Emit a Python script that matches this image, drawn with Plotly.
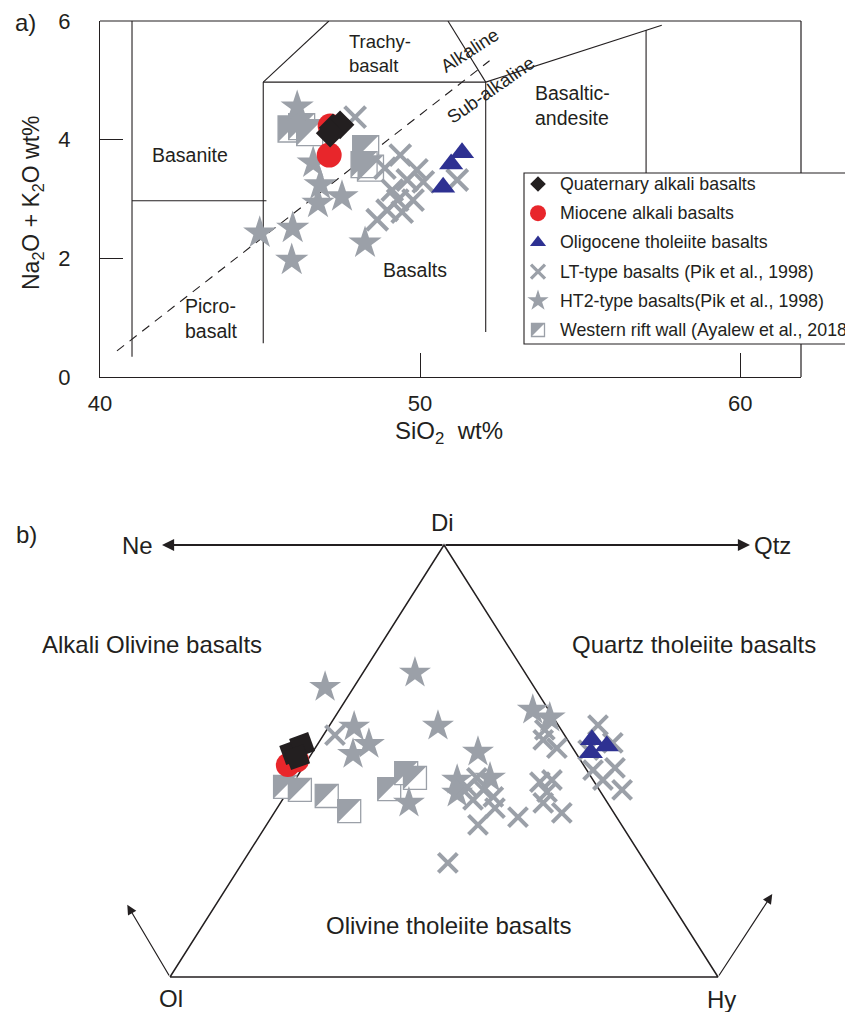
import plotly.graph_objects as go

W, H = 845, 1012
FONT = "Liberation Sans, Arial, sans-serif"
INK = "#231f20"
GREY = "#9ba0a8"
RED = "#e8262b"
BLUE = "#2e3192"
BLACK = "#231f20"

# ---------------- a) TAS diagram: SiO2 vs Na2O+K2O (wt%) ----------------
quat_sio2 = [47.28, 47.50, 47.19]
quat_alk = [4.20, 4.25, 4.11]

mio_sio2 = [47.19, 47.16]
mio_alk = [4.23, 3.74]

olig_sio2 = [51.31, 50.97, 50.72]
olig_alk = [3.78, 3.59, 3.20]

lt_sio2 = [47.97, 49.38, 49.90, 48.90, 49.13, 49.60, 50.10, 49.30, 49.78, 48.97, 49.44, 48.66, 51.16]
lt_alk = [4.38, 3.74, 3.49, 3.52, 3.15, 3.32, 3.29, 2.98, 2.98, 2.81, 2.78, 2.65, 3.32]

ht2_sio2 = [46.16, 44.99, 46.02, 45.99, 46.66, 46.88, 46.81, 47.56, 48.28]
ht2_alk = [4.55, 2.43, 2.51, 1.97, 3.61, 3.24, 2.93, 3.04, 2.26]

wrw_sio2 = [45.97, 46.30, 46.55, 48.30, 48.45, 48.25]
wrw_alk = [4.18, 4.22, 4.12, 3.85, 3.52, 3.58]

# field boundaries (SiO2, Na2O+K2O)
tas_boundaries = [
    ([41.0, 41.0], [0.34, 6.0]),
    ([41.0, 45.2], [2.97, 2.97]),
    ([45.1, 45.1], [0.57, 4.97]),
    ([45.1, 47.15], [4.97, 6.0]),
    ([45.1, 52.05], [4.97, 4.97]),
    ([52.05, 52.05], [0.76, 4.97]),
    ([52.05, 50.87], [4.97, 6.0]),
    ([52.05, 57.55], [4.97, 5.93]),
    ([57.06, 57.06], [3.44, 5.85]),
]
alk_divide_sio2 = [40.53, 52.17]
alk_divide_alk = [0.44, 5.33]

x_ticks = [40, 50, 60]
y_ticks = [0, 2, 4, 6]

# ---------------- b) Ne-Di-Ol-Hy-Qtz projection ----------------
# u runs along the Ol -> Hy base (0..1), v rises toward Di (0..1)
quat_u = [0.223, 0.241, 0.232]
quat_v = [0.521, 0.537, 0.509]

mio_u = [0.215, 0.232]
mio_v = [0.491, 0.502]

olig_u = [0.770, 0.797, 0.768]
olig_v = [0.549, 0.535, 0.519]

lt_u = [0.301, 0.560, 0.542, 0.572, 0.590, 0.553, 0.593, 0.562, 0.635, 0.675, 0.697, 0.688,
        0.681, 0.715, 0.684, 0.681, 0.706, 0.507, 0.781, 0.808, 0.763, 0.812, 0.790, 0.825, 0.772]
lt_v = [0.560, 0.461, 0.440, 0.433, 0.417, 0.410, 0.391, 0.352, 0.370, 0.451, 0.456, 0.428,
        0.403, 0.380, 0.572, 0.549, 0.530, 0.264, 0.583, 0.542, 0.525, 0.484, 0.456, 0.433, 0.479]

ht2_u = [0.283, 0.447, 0.489, 0.336, 0.363, 0.334, 0.562, 0.662, 0.693, 0.524, 0.524, 0.584, 0.436]
ht2_v = [0.671, 0.704, 0.581, 0.579, 0.539, 0.516, 0.521, 0.618, 0.600, 0.456, 0.426, 0.461, 0.403]

wrw_u = [0.210, 0.237, 0.286, 0.327, 0.400, 0.431, 0.447]
wrw_v = [0.440, 0.433, 0.419, 0.384, 0.435, 0.472, 0.461]

# projection frame: Ol, Di, Hy corners and the Ne / Qtz / arrow tips
ol_uv, di_uv, hy_uv = (0.0, 0.0), (0.5, 1.0), (1.0, 0.0)
ne_tip_u, qtz_tip_u = -0.0146, 1.0584
ol_arrow_tip = (-0.078, 0.167)
hy_arrow_tip = (1.099, 0.192)

legend_names = [
    "Quaternary alkali basalts",
    "Miocene alkali basalts",
    "Oligocene tholeiite basalts",
    "LT-type basalts (Pik et al., 1998)",
    "HT2-type basalts(Pik et al., 1998)",
    "Western rift wall (Ayalew et al., 2018)",
]

# ---------------- geometry (pixels) ----------------
A_L, A_R, A_T, A_B = 100, 801, 21, 377
X_RANGE = [40, 61.9]
Y_RANGE = [0, 6]
px_per_x = (A_R - A_L) / (X_RANGE[1] - X_RANGE[0])
px_per_y = (A_B - A_T) / (Y_RANGE[1] - Y_RANGE[0])

OL_PX, HY_PX, DI_PY = (170, 977), (718, 977), 545
U_PX = HY_PX[0] - OL_PX[0]
V_PX = OL_PX[1] - DI_PY
B_DOM_TOP = 0.6
b_top_px = H - B_DOM_TOP * H
U_RANGE = [-OL_PX[0] / U_PX, (W - OL_PX[0]) / U_PX]
V_RANGE = [(OL_PX[1] - H) / V_PX, (OL_PX[1] - b_top_px) / V_PX]

# marker side (pixels) of the half-filled squares
SQ_A, SQ_B, SQ_L = 26, 23, 13

fig = go.Figure()


def add_half_squares(xs, ys, side, xa, ya, px_x, px_y):
    """White square outlined in grey with its upper-left half filled grey.
    px_x / px_y: pixels per data unit (negative px_y for a downward axis)."""
    fig.add_trace(go.Scatter(x=xs, y=ys, xaxis=xa, yaxis=ya, mode="markers", showlegend=False,
                             hoverinfo="skip", cliponaxis=False,
                             marker=dict(symbol="square", size=side, color="white",
                                         line=dict(color=GREY, width=1.3))))
    hx, hy = side / 2 / px_x, side / 2 / px_y
    tx, ty = [], []
    for x, y in zip(xs, ys):
        tx += [x - hx, x - hx, x + hx, x - hx, None]
        ty += [y - hy, y + hy, y + hy, y - hy, None]
    fig.add_trace(go.Scatter(x=tx, y=ty, xaxis=xa, yaxis=ya, mode="lines", fill="toself",
                             fillcolor=GREY, line=dict(width=0, color=GREY), showlegend=False,
                             hoverinfo="skip", connectgaps=False, cliponaxis=False))


def add_points(xs, ys, xa, ya, symbol, size, color, lw=0, angle=0):
    if symbol == "x-thin":
        mk = dict(symbol=symbol, size=size, line=dict(color=color, width=lw))
    else:
        mk = dict(symbol=symbol, size=size, color=color, angle=angle, line=dict(width=0))
    fig.add_trace(go.Scatter(x=xs, y=ys, xaxis=xa, yaxis=ya, mode="markers",
                             showlegend=False, marker=mk, cliponaxis=False))


# ---- panel a ----
for bx, by in tas_boundaries:
    fig.add_trace(go.Scatter(x=bx, y=by, mode="lines", showlegend=False,
                             line=dict(color=INK, width=1.1), xaxis="x", yaxis="y"))
fig.add_trace(go.Scatter(x=alk_divide_sio2, y=alk_divide_alk, mode="lines", showlegend=False,
                         line=dict(color=INK, width=1.1, dash="9px,7px"), xaxis="x", yaxis="y"))

add_half_squares(wrw_sio2, wrw_alk, SQ_A, "x", "y", px_per_x, px_per_y)
add_points(ht2_sio2, ht2_alk, "x", "y", "star", 25, GREY)
add_points(lt_sio2, lt_alk, "x", "y", "x-thin", 21, GREY, lw=4)
add_points(mio_sio2, mio_alk, "x", "y", "circle", 25, RED)
add_points(quat_sio2, quat_alk, "x", "y", "diamond", 22, BLACK)
add_points(olig_sio2, olig_alk, "x", "y", "triangle-up", 21, BLUE)

# ---- panel b ----
fig.add_trace(go.Scatter(x=[ol_uv[0], di_uv[0], hy_uv[0], ol_uv[0]],
                         y=[ol_uv[1], di_uv[1], hy_uv[1], ol_uv[1]],
                         mode="lines", showlegend=False, line=dict(color=INK, width=1.5),
                         xaxis="x2", yaxis="y2"))

add_half_squares(wrw_u, wrw_v, SQ_B, "x2", "y2", U_PX, V_PX)
add_points(ht2_u, ht2_v, "x2", "y2", "star", 24, GREY)
add_points(lt_u, lt_v, "x2", "y2", "x-thin", 19, GREY, lw=4)
add_points(mio_u, mio_v, "x2", "y2", "circle", 24, RED)
add_points(quat_u, quat_v, "x2", "y2", "diamond", 22, BLACK, angle=25)
add_points(olig_u, olig_v, "x2", "y2", "triangle-up", 21, BLUE)

# ---- legend (pixel coordinates on x5/y5, y grows downward) ----
LEG_L, LEG_T, LEG_B, LEG_R = 524, 173, 344, 880
LEG_SYM_X, LEG_TXT_X = 538, 558
leg_row0, leg_step = 184, 29.2
leg_rows = [leg_row0 + i * leg_step for i in range(len(legend_names))]
leg_styles = [
    ("diamond", 12, BLACK), ("circle", 16, RED), ("triangle-up", 14, BLUE),
    ("x-thin", 14, GREY), ("star", 16, GREY),
]
for (sym, sz, col), ry in zip(leg_styles, leg_rows[:5]):
    add_points([LEG_SYM_X], [ry], "x5", "y5", sym, sz, col, lw=3.2)
add_half_squares([LEG_SYM_X], [leg_rows[5]], SQ_L, "x5", "y5", 1.0, -1.0)

annotations = []
for name, ry in zip(legend_names, leg_rows):
    annotations.append(dict(x=LEG_TXT_X, y=ry, xref="x5", yref="y5", text=name, showarrow=False,
                            xanchor="left", yanchor="middle",
                            font=dict(size=17.8, color=INK, family=FONT)))


def note(text, x, y, size, xref="x", yref="y", xanchor="center", angle=0, align="center"):
    annotations.append(dict(x=x, y=y, xref=xref, yref=yref, text=text, showarrow=False,
                            xanchor=xanchor, yanchor="middle", textangle=angle, align=align,
                            font=dict(size=size, color=INK, family=FONT)))


# panel a labels
note("a)", 25 / W, 1 - 23 / H, 24, "paper", "paper")
note("Trachy-<br>basalt", 47.72, 5.46, 18.5, xanchor="left", align="left")
note("Basanite", 42.81, 3.74, 19.5)
note("Picro-<br>basalt", 42.6, 0.99, 19.5, xanchor="left", align="left")
note("Basalts", 49.84, 1.80, 19.5)
note("Basaltic-<br>andesite", 53.53, 4.58, 19.5, xanchor="left", align="left")
note("Alkaline", 51.53, 5.51, 18.5, angle=-33)
note("Sub-alkaline", 52.22, 4.84, 18.5, angle=-35)
note("SiO<sub>2</sub>&nbsp;&nbsp;wt%", 449 / W, 1 - 432 / H, 24, "paper", "paper")
note("Na<sub>2</sub>O + K<sub>2</sub>O wt%", 32 / W, 1 - 203 / H, 23, "paper", "paper", angle=-90)

# panel b labels
note("b)", 26 / W, 1 - 534 / H, 24, "paper", "paper")
note("Di", 0.498, 1.053, 24, "x2", "y2")
note("Ne", -0.027, 0.998, 24, "x2", "y2", xanchor="right")
note("Qtz", 1.062, 0.998, 24, "x2", "y2", xanchor="left")
note("Alkali Olivine basalts", -0.032, 0.769, 24, "x2", "y2")
note("Quartz tholeiite basalts", 0.957, 0.769, 24, "x2", "y2")
note("Olivine tholeiite basalts", 0.509, 0.120, 24, "x2", "y2")
note("Ol", 0.002, -0.049, 24, "x2", "y2")
note("Hy", 1.007, -0.053, 24, "x2", "y2")

# arrows of the projection
for tip, tail, lw in [((ne_tip_u, di_uv[1]), di_uv, 2.2), ((qtz_tip_u, di_uv[1]), di_uv, 2.2),
                      (ol_arrow_tip, ol_uv, 1.2), (hy_arrow_tip, hy_uv, 1.2)]:
    annotations.append(dict(x=tip[0], y=tip[1], ax=tail[0], ay=tail[1], xref="x2", yref="y2",
                            axref="x2", ayref="y2", text="", showarrow=True, arrowhead=2,
                            arrowsize=1.6 if lw < 2 else 1.1, arrowwidth=lw, arrowcolor=INK))

# frame of panel a (top and right edges, broken where the legend box sits)
shapes = [
    dict(type="line", xref="x5", yref="y5", x0=A_L, x1=A_R, y0=A_T, y1=A_T,
         line=dict(color=INK, width=1.2), layer="above"),
    dict(type="line", xref="x5", yref="y5", x0=A_R, x1=A_R, y0=A_T, y1=LEG_T,
         line=dict(color=INK, width=1.2), layer="above"),
    dict(type="line", xref="x5", yref="y5", x0=A_R, x1=A_R, y0=LEG_B, y1=A_B,
         line=dict(color=INK, width=1.2), layer="above"),
    dict(type="rect", xref="x5", yref="y5", x0=LEG_L, x1=LEG_R, y0=LEG_T, y1=LEG_B,
         line=dict(color=INK, width=1.1), fillcolor="white", layer="below"),
]

axis_font = dict(size=22, color=INK, family=FONT)
hidden = dict(visible=False, showgrid=False, zeroline=False)

fig.update_layout(
    width=W, height=H,
    margin=dict(l=0, r=0, t=0, b=0, pad=0, autoexpand=False),
    paper_bgcolor="white", plot_bgcolor="rgba(0,0,0,0)",
    showlegend=False,
    font=dict(family=FONT, color=INK),
    xaxis=dict(domain=[A_L / W, A_R / W], range=X_RANGE, tickvals=x_ticks, ticks="inside",
               ticklen=24, tickwidth=1.2, tickcolor=INK, showline=True, linecolor=INK,
               linewidth=1.2, showgrid=False, zeroline=False, tickfont=axis_font,
               ticklabelstandoff=6, anchor="y", automargin=False),
    yaxis=dict(domain=[1 - A_B / H, 1 - A_T / H], range=Y_RANGE, tickvals=y_ticks,
               ticks="inside", ticklen=23, tickwidth=1.2, tickcolor=INK, showline=True,
               linecolor=INK, linewidth=1.2, showgrid=False, zeroline=False,
               tickfont=axis_font, ticklabelstandoff=24, anchor="x", automargin=False),
    xaxis2=dict(domain=[0, 1], range=U_RANGE, anchor="y2", **hidden),
    yaxis2=dict(domain=[0, B_DOM_TOP], range=V_RANGE, anchor="x2", **hidden),
    xaxis5=dict(domain=[0, 1], range=[0, W], anchor="y5", **hidden),
    yaxis5=dict(domain=[0, 1], range=[H, 0], anchor="x5", **hidden),
    annotations=annotations,
    shapes=shapes,
)

fig.write_html("out.html")
